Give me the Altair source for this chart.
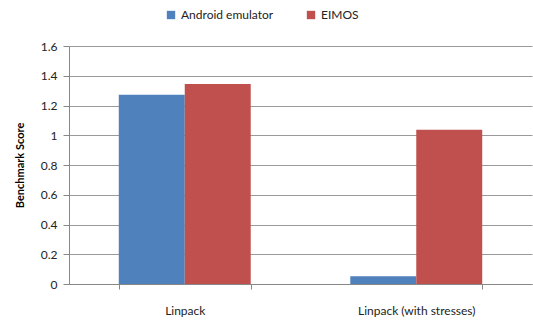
import altair as alt
import pandas as pd

categories = ["Linpack", "Linpack", "Linpack (with stresses)", "Linpack (with stresses)"]
series = ["Android emulator", "EIMOS", "Android emulator", "EIMOS"]
values = [1.273, 1.345, 0.052, 1.037]

df = pd.DataFrame({"bench": categories, "system": series, "score": values})

font = "Lato"
chart = alt.Chart(df).mark_bar().encode(
    x=alt.X("bench:N", title=None, sort=["Linpack", "Linpack (with stresses)"],
            scale=alt.Scale(paddingInner=0.43, paddingOuter=0.215),
            axis=alt.Axis(labelAngle=0, tickBand="extent", labelPadding=16,
                          domainColor="#888888", tickColor="#888888", tickSize=5,
                          labelFont=font, labelFontSize=12, labelColor="#222222", grid=False)),
    xOffset=alt.XOffset("system:N", sort=["Android emulator", "EIMOS"]),
    y=alt.Y("score:Q", title="Benchmark Score",
            scale=alt.Scale(domain=[0, 1.6]),
            axis=alt.Axis(values=[0, 0.2, 0.4, 0.6, 0.8, 1, 1.2, 1.4, 1.6],
                          format="~g", tickSize=6, tickColor="#888888", domainColor="#888888",
                          gridColor="#9A9A9A", gridWidth=1, labelPadding=6,
                          labelFont=font, labelFontSize=12, labelColor="#222222",
                          titleFont=font, titleFontSize=11, titleFontWeight="bold",
                          titleColor="#000000", titlePadding=15)),
    color=alt.Color("system:N", sort=["Android emulator", "EIMOS"],
                    scale=alt.Scale(domain=["Android emulator", "EIMOS"], range=["#4F81BD", "#C0504D"]),
                    legend=alt.Legend(title=None, orient="none", direction="horizontal",
                                      legendX=96, legendY=-37, symbolType="square", symbolSize=70,
                                      symbolStrokeWidth=0, columnPadding=31,
                                      labelFont=font, labelFontSize=12, labelColor="#222222")),
).properties(
    width=463, height=238,
    padding={"left": 69, "top": 46, "right": 1, "bottom": 36},
    autosize=alt.AutoSizeParams(type="none"),
).configure_view(stroke=None)

chart.save("out.html", embed_options={"renderer": "svg", "actions": False})
